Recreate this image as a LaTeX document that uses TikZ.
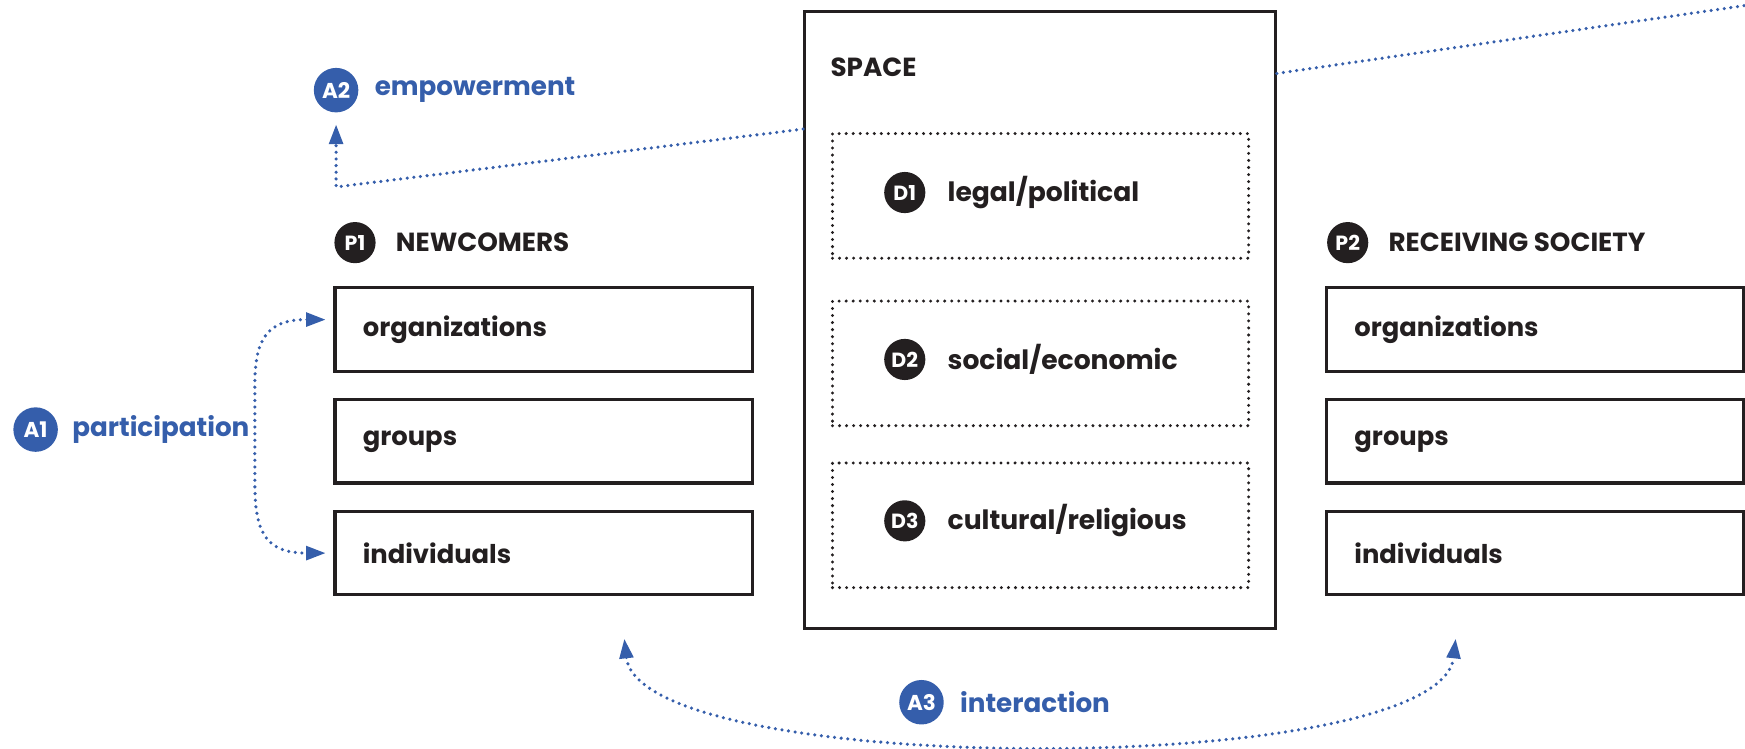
\documentclass[tikz,border=0pt]{standalone}
\usepackage{fontspec}
\setmainfont{Poppins}
\usetikzlibrary{arrows.meta,positioning}
\definecolor{inkdark}{RGB}{35,31,32}
\definecolor{actionblue}{RGB}{53,94,171}

\begin{document}
\begin{tikzpicture}[x=0.02cm,y=-0.02cm,
  levelbox/.style={draw=inkdark,line width=1.6pt,text width=6.5cm,minimum height=1.5cm,inner xsep=0.5cm,align=left,text=inkdark,font=\bfseries\fontsize{13.2}{15}\selectfont},
  dimbox/.style={draw=inkdark,line width=1.7pt,dash pattern=on 0pt off 3.6pt,line cap=round,minimum width=7.48cm,minimum height=2.24cm},
  badge/.style={circle,fill=inkdark,text=white,inner sep=0pt,minimum size=0.74cm,font=\bfseries\fontsize{10.5}{10.5}\selectfont},
  abadge/.style={circle,fill=actionblue,text=white,inner sep=0pt,minimum size=0.8cm,font=\bfseries\fontsize{11}{11}\selectfont},
  ptitle/.style={inner sep=0pt,text=inkdark,font=\bfseries\fontsize{13.4}{15}\selectfont},
  dlabel/.style={inner sep=0pt,text=inkdark,font=\bfseries\fontsize{13.6}{15}\selectfont},
  alabel/.style={inner sep=0pt,text=actionblue,font=\bfseries\fontsize{13.4}{15}\selectfont},
  actline/.style={draw=actionblue,line width=1.8pt,dash pattern=on 0pt off 3.4pt,line cap=round},
  actarrow/.style={actline,-{Triangle[length=10pt,width=7pt]}},
  actboth/.style={actline,{Triangle[length=10pt,width=7pt]}-{Triangle[length=10pt,width=7pt]}}]
\useasboundingbox (0,0) rectangle (1568,673);

\node[badge] (p1b) at (319,218) {P1};
\node[ptitle,right=10pt of p1b] (p1t) {NEWCOMERS};
\node[levelbox] (norg) at (488.5,296) {organizations};
\node[levelbox] (ngrp) at (488.5,396.5) {groups};
\node[levelbox] (nind) at (488.5,497) {individuals};

\node[badge] (p2b) at (1211,218) {P2};
\node[ptitle,right=10pt of p2b] (p2t) {RECEIVING SOCIETY};
\node[levelbox] (rorg) at (1379.5,296) {organizations};
\node[levelbox] (rgrp) at (1379.5,396.5) {groups};
\node[levelbox] (rind) at (1379.5,497) {individuals};

\node[draw=inkdark,line width=1.6pt,minimum width=8.46cm,minimum height=11.1cm] (space) at (934.5,287.5) {};
\node[ptitle,anchor=west] (spacet) at (746,60) {SPACE};
\node[dimbox] (d1) at (935,176) {};
\node[dimbox] (d2) at (935,326.5) {};
\node[dimbox] (d3) at (935,472) {};
\node[badge] (d1b) at (813,173) {D1};
\node[dlabel,right=11pt of d1b] (d1t) {legal/political};
\node[badge] (d2b) at (813,323) {D2};
\node[dlabel,right=11pt of d2b] (d2t) {social/economic};
\node[badge] (d3b) at (813,468) {D3};
\node[dlabel,right=11pt of d3b] (d3t) {cultural/religious};

\node[abadge] (a2b) at (302,81) {A2};
\node[alabel,right=8pt of a2b] (a2t) {empowerment};
\node[abadge] (a1b) at (32,386) {A1};
\node[alabel,right=7pt of a1b] (a1t) {participation};
\node[abadge] (a3b) at (828,631) {A3};
\node[alabel,right=8pt of a3b] (a3t) {interaction};

\coordinate (a2from) at (space.west |- 0,116);
\coordinate (farright) at (1568,5);
\coordinate (a3left) at (561,574);
\coordinate (a3right) at (1308,574);

\draw[actarrow] (a2from) -- (a2b |- 0,168) -- ([yshift=-6pt]a2b.south);
\draw[actline] (space.east |- 0,66) -- (farright);
\draw[actboth] ([shift={(-4pt,5pt)}]norg.west) .. controls (240,287) and (229,305) .. (229,345) -- (229,435) .. controls (229,480) and (240,497) .. ([xshift=-4pt]nind.west);
\draw[actboth] (a3left) .. controls (575,700) and (1294,700) .. (a3right);
\end{tikzpicture}
\end{document}
